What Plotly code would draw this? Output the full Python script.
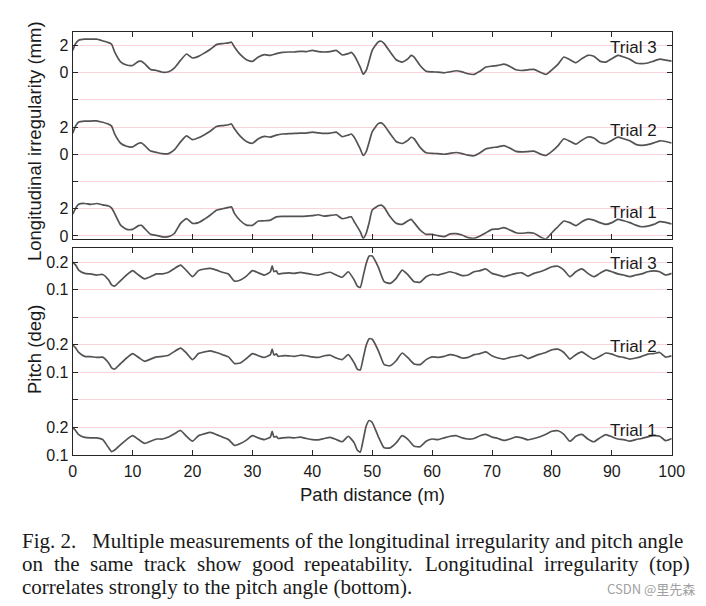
import plotly.graph_objects as go

W, H = 706, 606

# ---------------- data ----------------
dist_top = [0, 0.5, 1, 2, 3, 4, 5, 6, 6.5, 7,
            8, 9, 10, 11, 11.5, 12, 13, 14, 15, 16,
            17, 18, 19, 20, 21, 22, 23, 24, 25, 26,
            26.5, 27, 28, 29, 30, 31, 32, 33, 34, 35,
            36, 37, 38, 39, 40, 41, 42, 43, 44, 45,
            46, 46.5, 47, 48, 48.5, 49, 49.5, 50, 51, 51.5,
            52, 53, 54, 55, 56, 56.5, 57, 58, 59, 60,
            61, 62, 63, 64, 65, 66, 67, 68, 69, 70,
            71, 72, 73, 74, 75, 76, 77, 78, 79, 80,
            81, 82, 83, 84, 85, 86, 87, 88, 89, 90,
            91, 92, 93, 94, 95, 96, 97, 98, 99, 100]

irr_trial3 = [1.65, 2.15, 2.40, 2.47, 2.47, 2.47, 2.35, 2.22, 2.10, 1.53,
              0.80, 0.57, 0.54, 0.84, 0.84, 0.67, 0.25, 0.17, 0.04, 0.08,
              0.37, 0.91, 1.38, 1.09, 1.21, 1.46, 1.73, 2.07, 2.15, 2.20,
              2.25, 1.90, 1.33, 0.96, 0.84, 1.16, 1.33, 1.28, 1.41, 1.50,
              1.53, 1.53, 1.58, 1.56, 1.65, 1.56, 1.53, 1.56, 1.65, 1.31,
              1.41, 1.50, 1.28, 0.42, -0.10, 0.17, 0.90, 1.65, 2.27, 2.32,
              2.15, 1.53, 0.96, 0.79, 1.04, 1.28, 1.16, 0.54, 0.12, 0.07,
              0.05, 0.00, 0.07, 0.15, 0.07, -0.07, -0.12, 0.12, 0.42, 0.49,
              0.54, 0.64, 0.47, 0.22, 0.17, 0.22, 0.25, 0.05, -0.12, 0.22,
              0.62, 1.16, 0.96, 0.74, 1.04, 1.28, 1.21, 0.86, 0.79, 1.04,
              1.28, 1.16, 1.00, 0.72, 0.67, 0.72, 0.86, 1.00, 0.93, 0.86]

irr_trial2 = [1.55, 2.10, 2.38, 2.45, 2.45, 2.47, 2.36, 2.22, 2.08, 1.50,
              0.82, 0.60, 0.55, 0.82, 0.84, 0.66, 0.24, 0.15, 0.05, 0.06,
              0.35, 0.92, 1.36, 1.08, 1.22, 1.45, 1.72, 2.05, 2.12, 2.18,
              2.24, 1.88, 1.32, 0.95, 0.82, 1.15, 1.32, 1.27, 1.42, 1.50,
              1.52, 1.54, 1.57, 1.56, 1.64, 1.58, 1.54, 1.56, 1.64, 1.30,
              1.42, 1.50, 1.26, 0.40, -0.08, 0.20, 0.92, 1.66, 2.26, 2.32,
              2.14, 1.52, 0.95, 0.80, 1.05, 1.26, 1.15, 0.52, 0.12, 0.08,
              0.05, 0.01, 0.08, 0.14, 0.06, -0.06, -0.10, 0.12, 0.41, 0.50,
              0.55, 0.65, 0.46, 0.22, 0.18, 0.21, 0.24, 0.04, -0.08, 0.22,
              0.62, 1.15, 0.96, 0.75, 1.04, 1.28, 1.20, 0.88, 0.80, 1.03,
              1.27, 1.15, 1.00, 0.74, 0.67, 0.72, 0.85, 1.00, 0.95, 0.84]

irr_trial1 = [1.61, 2.05, 2.34, 2.39, 2.32, 2.39, 2.29, 2.20, 2.05, 1.66,
              0.80, 0.49, 0.49, 0.76, 0.78, 0.56, 0.12, 0.05, -0.07, -0.05,
              0.20, 0.93, 1.27, 0.93, 0.98, 1.24, 1.54, 1.90, 2.00, 2.10,
              2.15, 1.66, 1.12, 0.80, 0.78, 1.10, 1.12, 1.17, 1.41, 1.44,
              1.44, 1.44, 1.44, 1.46, 1.50, 1.56, 1.46, 1.51, 1.56, 1.27,
              1.37, 1.41, 1.05, 0.32, -0.17, 0.20, 1.00, 1.90, 2.22, 2.27,
              2.10, 1.41, 0.93, 0.85, 1.12, 1.22, 0.98, 0.44, 0.12, 0.12,
              0.02, -0.05, 0.15, 0.17, 0.07, -0.12, -0.17, 0.00, 0.24, 0.49,
              0.51, 0.61, 0.44, 0.24, 0.20, 0.24, 0.20, -0.05, -0.22, 0.24,
              0.68, 1.10, 0.98, 0.76, 1.05, 1.24, 1.17, 0.98, 0.85, 0.98,
              1.22, 1.12, 0.98, 0.80, 0.68, 0.73, 0.85, 1.05, 1.00, 0.88]

dist_bot = [0, 0.5, 1, 2, 3, 4, 5, 6, 6.5, 7,
            8, 9, 10, 11, 12, 13, 14, 15, 16, 17,
            18, 19, 20, 21, 22, 23, 24, 25, 26, 27,
            28, 29, 30, 31, 32, 33, 33.3, 33.6, 34, 34.3,
            35, 36, 37, 38, 39, 40, 41, 42, 43, 44,
            45, 46, 47, 47.5, 48, 48.5, 49, 49.5, 50, 51,
            52, 53, 54, 55, 56, 57, 58, 59, 60, 61,
            62, 63, 64, 65, 66, 67, 68, 69, 70, 71,
            72, 73, 74, 75, 76, 77, 78, 79, 80, 81,
            82, 83, 84, 85, 86, 87, 88, 89, 90, 91,
            92, 93, 94, 95, 96, 97, 98, 99, 100]

pitch_trial3 = [0.200, 0.189, 0.171, 0.159, 0.157, 0.153, 0.155, 0.135, 0.117, 0.113,
                0.133, 0.153, 0.169, 0.153, 0.139, 0.147, 0.157, 0.157, 0.163, 0.177,
                0.189, 0.169, 0.147, 0.169, 0.175, 0.177, 0.171, 0.163, 0.157, 0.131,
                0.135, 0.149, 0.169, 0.161, 0.153, 0.165, 0.186, 0.165, 0.168, 0.157,
                0.159, 0.161, 0.159, 0.163, 0.159, 0.155, 0.153, 0.159, 0.163, 0.153,
                0.145, 0.165, 0.135, 0.113, 0.108, 0.150, 0.195, 0.222, 0.222, 0.183,
                0.129, 0.123, 0.141, 0.171, 0.153, 0.129, 0.127, 0.147, 0.155, 0.153,
                0.159, 0.165, 0.159, 0.151, 0.153, 0.165, 0.169, 0.175, 0.159, 0.153,
                0.147, 0.153, 0.159, 0.161, 0.149, 0.159, 0.165, 0.173, 0.183, 0.185,
                0.171, 0.147, 0.165, 0.175, 0.159, 0.147, 0.159, 0.171, 0.165, 0.157,
                0.153, 0.147, 0.153, 0.157, 0.165, 0.168, 0.165, 0.153, 0.159]

pitch_trial2 = [0.200, 0.188, 0.172, 0.158, 0.157, 0.154, 0.155, 0.134, 0.116, 0.112,
                0.132, 0.152, 0.168, 0.154, 0.140, 0.148, 0.156, 0.158, 0.162, 0.176,
                0.188, 0.170, 0.146, 0.168, 0.174, 0.178, 0.172, 0.164, 0.156, 0.132,
                0.134, 0.150, 0.168, 0.160, 0.154, 0.164, 0.184, 0.163, 0.167, 0.158,
                0.160, 0.160, 0.158, 0.162, 0.160, 0.156, 0.154, 0.160, 0.162, 0.152,
                0.146, 0.164, 0.134, 0.112, 0.108, 0.152, 0.198, 0.222, 0.220, 0.180,
                0.128, 0.124, 0.142, 0.170, 0.152, 0.130, 0.128, 0.146, 0.156, 0.154,
                0.158, 0.164, 0.160, 0.152, 0.154, 0.164, 0.168, 0.174, 0.160, 0.152,
                0.148, 0.154, 0.158, 0.162, 0.150, 0.158, 0.166, 0.172, 0.182, 0.184,
                0.172, 0.148, 0.164, 0.174, 0.160, 0.148, 0.158, 0.170, 0.166, 0.158,
                0.154, 0.148, 0.152, 0.158, 0.166, 0.168, 0.172, 0.155, 0.160]

pitch_trial1 = [0.200, 0.188, 0.174, 0.164, 0.162, 0.162, 0.156, 0.126, 0.112, 0.118,
                0.138, 0.156, 0.170, 0.156, 0.142, 0.150, 0.158, 0.158, 0.165, 0.177,
                0.189, 0.168, 0.150, 0.170, 0.177, 0.182, 0.174, 0.165, 0.156, 0.135,
                0.142, 0.154, 0.170, 0.162, 0.156, 0.165, 0.186, 0.165, 0.168, 0.160,
                0.162, 0.164, 0.162, 0.165, 0.160, 0.156, 0.155, 0.160, 0.164, 0.156,
                0.148, 0.168, 0.144, 0.118, 0.110, 0.155, 0.205, 0.225, 0.218, 0.168,
                0.126, 0.126, 0.144, 0.170, 0.156, 0.132, 0.130, 0.150, 0.158, 0.156,
                0.162, 0.168, 0.170, 0.162, 0.158, 0.160, 0.170, 0.175, 0.165, 0.160,
                0.153, 0.158, 0.166, 0.162, 0.155, 0.160, 0.166, 0.175, 0.186, 0.188,
                0.175, 0.150, 0.168, 0.175, 0.158, 0.148, 0.162, 0.174, 0.166, 0.158,
                0.156, 0.150, 0.156, 0.160, 0.166, 0.170, 0.168, 0.152, 0.160]

trial_names = ["Trial 1", "Trial 2", "Trial 3"]
irr_offsets = [0, 6, 12]
pitch_offsets = [0.0, 0.3, 0.6]

irr_tickvals = [0, 2, 4, 6, 8, 10, 12, 14]
irr_ticktext = ["0", "2", "", "0", "2", "", "0", "2"]
pitch_tickvals = [0.1, 0.2, 0.3, 0.4, 0.5, 0.6, 0.7, 0.8]
pitch_ticktext = ["0.1", "0.2", "", "0.1", "0.2", "", "0.1", "0.2"]
x_tickvals = [0, 10, 20, 30, 40, 50, 60, 70, 80, 90, 100]

caption_line1 = "Fig. 2.\u2002 Multiple measurements of the longitudinal irregularity and pitch angle"
caption_line2_words = ["on", "the", "same", "track", "show", "good", "repeatability.",
                       "Longitudinal", "irregularity", "(top)"]
caption_line3 = "correlates strongly to the pitch angle (bottom)."
watermark = "CSDN @里先森"

# ---------------- figure ----------------
def px(x):
    return x / W

def py(y):
    return 1 - y / H

LINE = "#535353"
GRID = "#fbd3d9"
AX = "#262626"
SANS = "Liberation Sans, Arial, sans-serif"
SERIF = "Liberation Serif, Times New Roman, serif"

fig = go.Figure()
irr_series = [irr_trial1, irr_trial2, irr_trial3]
pitch_series = [pitch_trial1, pitch_trial2, pitch_trial3]
for name, off, vals in zip(trial_names, irr_offsets, irr_series):
    fig.add_trace(go.Scatter(x=dist_top, y=[v + off for v in vals], mode="lines",
                             line=dict(color=LINE, width=1.7, shape="spline", smoothing=0.5),
                             name=name, xaxis="x", yaxis="y", showlegend=False))
for name, off, vals in zip(trial_names, pitch_offsets, pitch_series):
    fig.add_trace(go.Scatter(x=dist_bot, y=[v + off for v in vals], mode="lines",
                             line=dict(color=LINE, width=1.7, shape="spline", smoothing=0.5),
                             name=name, xaxis="x2", yaxis="y2", showlegend=False))

xdom = [px(72.7), px(671.7)]
common_x = dict(range=[0, 100], tickvals=x_tickvals, ticks="inside", ticklen=5,
                tickcolor=AX, showline=True, linecolor=AX, linewidth=1,
                mirror="ticks", showgrid=False, zeroline=False, domain=xdom,
                automargin=False,
                tickfont=dict(family=SANS, size=16, color="#1a1a1a"))
common_y = dict(ticks="inside", ticklen=5, tickcolor=AX, showline=True,
                linecolor=AX, linewidth=1, mirror="ticks", showgrid=True,
                gridcolor=GRID, gridwidth=1, zeroline=False, automargin=False,
                tickfont=dict(family=SANS, size=16, color="#1a1a1a"))

fig.update_layout(
    width=W, height=H, margin=dict(l=0, r=0, t=0, b=0, autoexpand=False),
    paper_bgcolor="white", plot_bgcolor="white",
    xaxis=dict(common_x, anchor="y", showticklabels=False),
    yaxis=dict(common_y, anchor="x", domain=[py(238.7), py(32)], range=[-0.2, 15],
               tickvals=irr_tickvals, ticktext=irr_ticktext),
    xaxis2=dict(common_x, anchor="y2", showticklabels=True, ticklabelstandoff=2),
    yaxis2=dict(common_y, anchor="x2", domain=[py(455), py(248.3)], range=[0.1, 0.85],
                tickvals=pitch_tickvals, ticktext=pitch_ticktext),
)

ann = []
# trial labels
for name, ycen in zip(trial_names, [212, 130, 48]):
    ann.append(dict(x=px(659), y=py(ycen), text=name, xanchor="right", yanchor="middle"))
for name, ycen in zip(trial_names, [430, 346, 263]):
    ann.append(dict(x=px(659), y=py(ycen), text=name, xanchor="right", yanchor="middle"))
for a in ann:
    a.update(xref="paper", yref="paper", showarrow=False,
             font=dict(family=SANS, size=17, color="#1a1a1a"))

# axis titles
ann.append(dict(x=px(34), y=py(141), text="Longitudinal irregularity (mm)", textangle=-90,
                xref="paper", yref="paper", showarrow=False, xanchor="center", yanchor="middle",
                font=dict(family=SANS, size=18.5, color="#1a1a1a")))
ann.append(dict(x=px(34), y=py(350), text="Pitch (deg)", textangle=-90,
                xref="paper", yref="paper", showarrow=False, xanchor="center", yanchor="middle",
                font=dict(family=SANS, size=18.5, color="#1a1a1a")))
ann.append(dict(x=px(372), y=py(495), text="Path distance (m)",
                xref="paper", yref="paper", showarrow=False, xanchor="center", yanchor="middle",
                font=dict(family=SANS, size=18.5, color="#1a1a1a")))

# caption
cap_font = dict(family=SERIF, size=21, color="#1a1a1a")
ann.append(dict(x=px(20), y=py(541), text=caption_line1, xref="paper", yref="paper",
                showarrow=False, xanchor="left", yanchor="middle", font=cap_font))
line2_x = [20, 51.7, 88.1, 142, 194.7, 249.7, 302.4, 422.9, 542.1, 647.3]
for wx, wd in zip(line2_x, caption_line2_words):
    ann.append(dict(x=px(wx), y=py(564), text=wd, xref="paper", yref="paper",
                    showarrow=False, xanchor="left", yanchor="middle", font=cap_font))
ann.append(dict(x=px(20), y=py(587), text=caption_line3, xref="paper", yref="paper",
                showarrow=False, xanchor="left", yanchor="middle", font=cap_font))
ann.append(dict(x=px(697), y=py(588), text=watermark, xref="paper", yref="paper",
                showarrow=False, xanchor="right", yanchor="middle",
                font=dict(family="Noto Sans CJK SC, sans-serif", size=13, color="#a0a0a0")))

fig.update_layout(annotations=ann)
fig.write_html("out.html", config={"displayModeBar": False},
               post_script="document.body.style.margin='0';document.body.style.padding='0';")
